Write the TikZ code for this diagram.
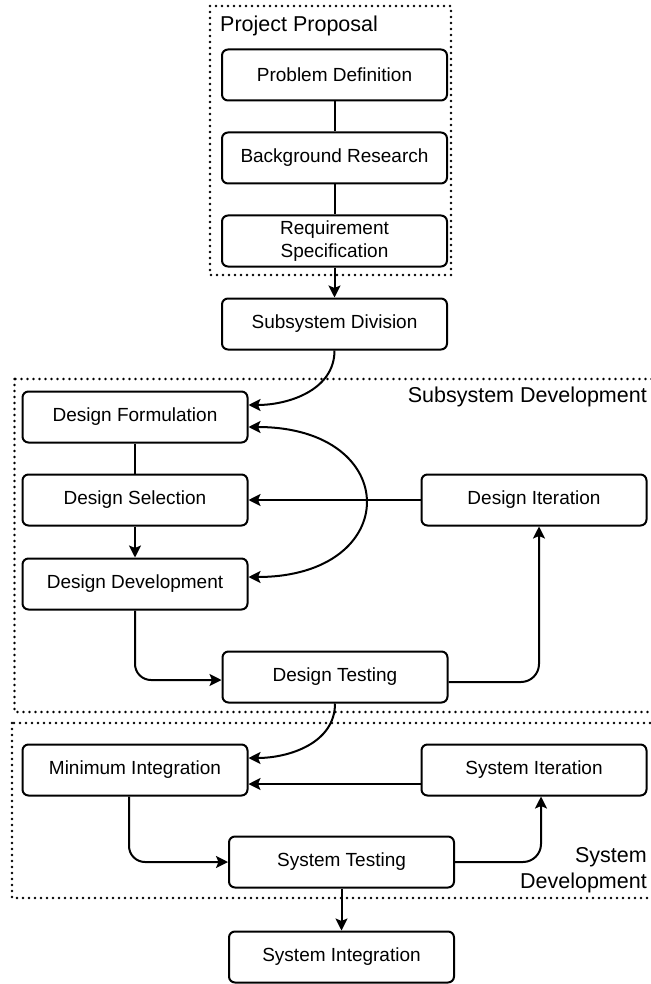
\documentclass[tikz,border=0pt]{standalone}
\usepackage{fontspec}
\setmainfont{Liberation Sans}
\usetikzlibrary{arrows.meta}
\tikzset{
    stage/.style={draw, line width=2pt, rounded corners=6pt, minimum width=225pt,
                  minimum height=51pt, align=center, inner sep=2pt,
                  font=\fontsize{19}{23}\selectfont},
    group/.style={line width=2.6pt, dash pattern=on 0pt off 6pt, line cap=round},
    grouplabel/.style={inner sep=0pt, font=\fontsize{21.5}{26}\selectfont},
    link/.style={line width=2pt},
    arr/.style={line width=2pt, -{Stealth[length=12pt,width=12pt,inset=2.5pt]}},
    twoarr/.style={line width=2pt, {Stealth[length=12pt,width=12pt,inset=2.5pt]}-{Stealth[length=12pt,width=12pt,inset=2.5pt]}}
}

\begin{document}
\begin{tikzpicture}[x=1pt, y=-1pt]
  \useasboundingbox (0,0) rectangle (650,984);

  % dotted groups
  \draw[group] (210,6) rectangle (451,275);
  \draw[group] (14.5,379) rectangle (660,712);
  \draw[group] (12,723) rectangle (660,898);
  \node[grouplabel, anchor=base west] (pplabel) at (220,32) {Project Proposal};
  \node[grouplabel, anchor=base east] (sdlabel) at (647,402) {Subsystem Development};
  \node[grouplabel, anchor=north east, align=right] (syslabel) at (647,847) {System\\Development};

  % project proposal
  \node[stage] (pd) at (334.5,75)  {Problem Definition};
  \node[stage] (br) at (334.5,158) {Background Research};
  \node[stage] (rs) at (334.5,241) {Requirement\\Specification};
  \node[stage] (sd) at (334.5,324) {Subsystem Division};

  % subsystem development
  \node[stage] (df) at (135,417) {Design Formulation};
  \node[stage] (ds) at (135,500) {Design Selection};
  \node[stage] (dd) at (135,584) {Design Development};
  \node[stage] (di) at (534,500) {Design Iteration};
  \node[stage] (dt) at (335,677) {Design Testing};

  % system development
  \node[stage] (mi)   at (135,770)   {Minimum Integration};
  \node[stage] (si)   at (534,770)   {System Iteration};
  \node[stage] (st)   at (341.5,862) {System Testing};
  \node[stage] (sint) at (341.5,957) {System Integration};

  % connectors
  \draw[link] (pd) -- (br);
  \draw[link] (br) -- (rs);
  \draw[arr] (rs) -- (sd);
  \draw[arr] (sd.south) to[out=-90, in=0] ([yshift=12pt]df.east);
  \draw[link] (df) -- (ds);
  \draw[arr] (ds) -- (dd);
  \draw[twoarr] ([yshift=-10pt]df.east) .. controls +(155,0) and +(155,0) .. ([yshift=7pt]dd.east);
  \draw[arr] (di.west) -- (ds.east);
  \draw[arr, rounded corners=16pt] (dd.south) |- ([yshift=-3pt]dt.west);
  \draw[arr, rounded corners=18pt] ([yshift=-5pt]dt.east) -| ([xshift=5pt]di.south);
  \draw[arr] (dt.south) to[out=-90, in=0] ([yshift=12pt]mi.east);
  \draw[arr] ([yshift=-14pt]si.west) -- ([yshift=-14pt]mi.east);
  \draw[arr, rounded corners=16pt] ([xshift=-6pt]mi.south) |- (st.west);
  \draw[arr, rounded corners=18pt] (st.east) -| ([xshift=7pt]si.south);
  \draw[arr] (st) -- (sint);
\end{tikzpicture}
\end{document}
